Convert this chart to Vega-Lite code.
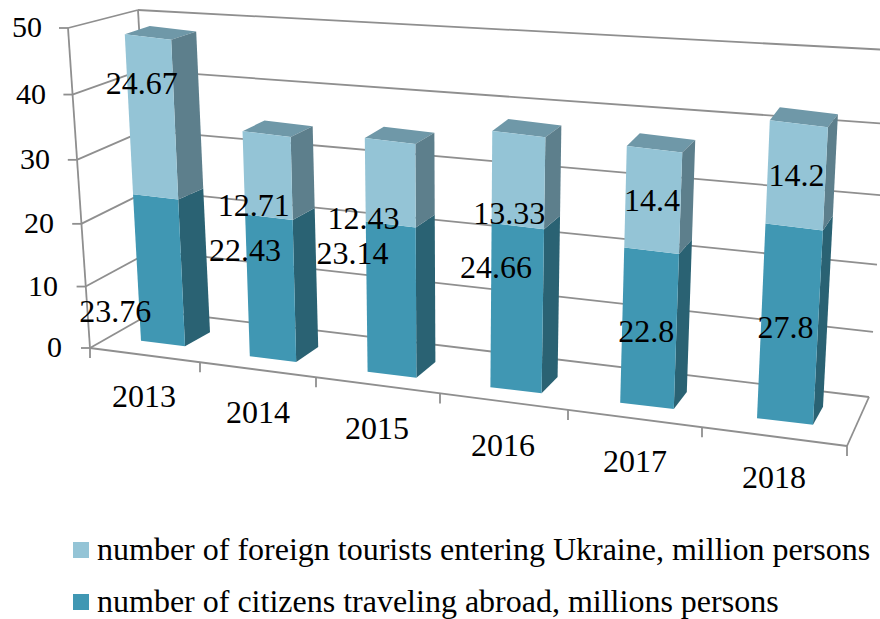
{
"$schema":"https://vega.github.io/schema/vega-lite/v6.json",
"width":880,"height":619,"padding":0,"autosize":{"type":"none"},
"background":"white",
"config":{"view":{"stroke":null},"text":{"font":"Liberation Serif"},"legend":{"labelFont":"Liberation Serif"}},
"datasets":{
"bars":[
{"year":2013,"series":"number of citizens traveling abroad, millions persons","value":23.76},
{"year":2013,"series":"number of foreign tourists entering Ukraine, million persons","value":24.67},
{"year":2014,"series":"number of citizens traveling abroad, millions persons","value":22.43},
{"year":2014,"series":"number of foreign tourists entering Ukraine, million persons","value":12.71},
{"year":2015,"series":"number of citizens traveling abroad, millions persons","value":23.14},
{"year":2015,"series":"number of foreign tourists entering Ukraine, million persons","value":12.43},
{"year":2016,"series":"number of citizens traveling abroad, millions persons","value":24.66},
{"year":2016,"series":"number of foreign tourists entering Ukraine, million persons","value":13.33},
{"year":2017,"series":"number of citizens traveling abroad, millions persons","value":22.8},
{"year":2017,"series":"number of foreign tourists entering Ukraine, million persons","value":14.4},
{"year":2018,"series":"number of citizens traveling abroad, millions persons","value":27.8},
{"year":2018,"series":"number of foreign tourists entering Ukraine, million persons","value":14.2}
],
"ticks":[{"tick":0},{"tick":10},{"tick":20},{"tick":30},{"tick":40},{"tick":50}],
"boundaries":[{"b":0},{"b":1},{"b":2},{"b":3},{"b":4},{"b":5},{"b":6}],
"years":[{"year":2013},{"year":2014},{"year":2015},{"year":2016},{"year":2017},{"year":2018}],
"frame":[{"part":"frame"}]
},
"layer":[
{"data":{"name":"ticks"},
 "mark":{"type":"rule","color":"#8f8f8f","strokeWidth":1.8,"xOffset":{"expr":"99-0.34*datum.tick"},"x2Offset":{"expr":"-51+0.4*datum.tick"},"yOffset":{"expr":"-37+0.38*datum.tick"},"y2Offset":{"expr":"49-0.0108*datum.tick*datum.tick"}},
 "encoding":{
  "x":{"datum":2012,"type":"quantitative","axis":null,"scale":{"domain":[2012,2013,2014,2015,2016,2017,2018,2019],"range":[56,163,273,392,516,647,785,920]}},
  "x2":{"datum":2019},
  "y":{"field":"tick","type":"quantitative","axis":null,"scale":{"domain":[0,50],"range":[348,28]}},
  "y2":{"field":"tick"}}},
{"data":{"name":"ticks"},
 "mark":{"type":"rule","color":"#8f8f8f","strokeWidth":1.8,"xOffset":{"expr":"34-0.44*datum.tick"},"x2Offset":{"expr":"25-0.44*datum.tick"},"yOffset":{"expr":"0.0064*datum.tick*(50-datum.tick)"},"y2Offset":{"expr":"0.0064*datum.tick*(50-datum.tick)"}},
 "encoding":{"x":{"datum":2012,"type":"quantitative"},"x2":{"datum":2012},"y":{"field":"tick","type":"quantitative"},"y2":{"field":"tick"}}},
{"data":{"name":"ticks"},
 "mark":{"type":"text","fontSize":30,"font":"Liberation Serif","color":"#000000","align":"right","baseline":"middle","xOffset":{"expr":"6-0.4*datum.tick"},"yOffset":{"expr":"0.0064*datum.tick*(50-datum.tick)"}},
 "encoding":{"x":{"datum":2012,"type":"quantitative"},"y":{"field":"tick","type":"quantitative"},"text":{"field":"tick","type":"nominal"}}},
{"data":{"name":"ticks"},
 "mark":{"type":"rule","color":"#8f8f8f","strokeWidth":1.8,"xOffset":{"expr":"34-0.44*datum.tick"},"x2Offset":{"expr":"99-0.34*datum.tick"},"yOffset":{"expr":"0.0064*datum.tick*(50-datum.tick)"},"y2Offset":{"expr":"-37+0.38*datum.tick"}},
 "encoding":{"x":{"datum":2012,"type":"quantitative"},"x2":{"datum":2012},"y":{"field":"tick","type":"quantitative"},"y2":{"field":"tick"}}},
{"data":{"name":"frame"},
 "mark":{"type":"rule","color":"#8f8f8f","strokeWidth":1.8,"xOffset":34,"x2Offset":12},
 "encoding":{"x":{"datum":2012,"type":"quantitative"},"x2":{"datum":2012},"y":{"datum":0,"type":"quantitative"},"y2":{"datum":50}}},
{"data":{"name":"frame"},
 "mark":{"type":"rule","color":"#8f8f8f","strokeWidth":1.8,"xOffset":99,"x2Offset":82,"yOffset":-37,"y2Offset":-18},
 "encoding":{"x":{"datum":2012,"type":"quantitative"},"x2":{"datum":2012},"y":{"datum":0,"type":"quantitative"},"y2":{"datum":50}}},
{"data":{"name":"frame"},
 "mark":{"type":"rule","color":"#8f8f8f","strokeWidth":1.8,"xOffset":34,"x2Offset":-73,"y2Offset":98},
 "encoding":{"x":{"datum":2012,"type":"quantitative"},"x2":{"datum":2019},"y":{"datum":0,"type":"quantitative"},"y2":{"datum":0}}},
{"data":{"name":"frame"},
 "mark":{"type":"rule","color":"#8f8f8f","strokeWidth":1.8,"xOffset":-73,"x2Offset":-51,"yOffset":98,"y2Offset":49},
 "encoding":{"x":{"datum":2019,"type":"quantitative"},"x2":{"datum":2019},"y":{"datum":0,"type":"quantitative"},"y2":{"datum":0}}},
{"data":{"name":"boundaries"},
 "mark":{"type":"rule","color":"#8f8f8f","strokeWidth":1.8,"xOffset":{"expr":"[34,144,260,384,512,646,791][datum.b]"},"x2Offset":{"expr":"[34,144,260,384,512,646,791][datum.b]"},"yOffset":{"expr":"[0,14.2,29.3,45.4,61.9,79.3,98][datum.b]"},"y2Offset":{"expr":"10+[0,14.2,29.3,45.4,61.9,79.3,98][datum.b]"}},
 "encoding":{"x":{"datum":2012,"type":"quantitative"},"x2":{"datum":2012},"y":{"datum":0,"type":"quantitative"},"y2":{"datum":0}}},
{"data":{"name":"years"},
 "mark":{"type":"text","fontSize":32,"font":"Liberation Serif","color":"#000000","align":"center","baseline":"middle","xOffset":{"expr":"[-19,-15,-15,-13,-12,-11][datum.year-2013]"},"yOffset":{"expr":"49+16.2*(datum.year-2013)"}},
 "encoding":{"x":{"field":"year","type":"quantitative"},"y":{"datum":0,"type":"quantitative"},"text":{"field":"year","type":"nominal"}}},
{"data":{"name":"bars"},
 "transform":[
  {"stack":"value","groupby":["year"],"sort":[{"field":"series","order":"ascending"}],"as":["v0","v1"]},
  {"filter":"datum.series=='number of foreign tourists entering Ukraine, million persons'"},
  {"calculate":"[0,1,2,3]","as":"corner"},{"flatten":["corner"]},
  {"calculate":"datum.year-2013","as":"t"},
  {"calculate":"datum.v1","as":"v"},
  {"calculate":"(datum.corner==0||datum.corner==3)?0:1","as":"u"},
  {"calculate":"datum.corner>=2?1:0","as":"d"},
  {"calculate":"(-0.31+0.128*datum.t)*datum.v+(datum.u-0.5)*(44+2.4*datum.t+0.05*datum.v)+datum.d*(25-3*datum.t)","as":"dx"},
  {"calculate":"-4.5+15.6*datum.t+(0.06-0.16*datum.t)*datum.v+0.0064*datum.v*(50-datum.v)+(datum.u-0.5)*0.12*(44+2.4*datum.t+0.05*datum.v)+datum.d*(-14-0.8*datum.t+0.12*datum.v)","as":"dy"}
 ],
 "mark":{"type":"line","filled":true,"fill":"#6f98a8","stroke":null,"xOffset":{"expr":"datum.dx"},"yOffset":{"expr":"datum.dy"}},
 "encoding":{"x":{"field":"year","type":"quantitative"},"y":{"field":"v","type":"quantitative"},"detail":{"field":"year"},"order":{"field":"corner"}}},
{"data":{"name":"bars"},
 "transform":[
  {"stack":"value","groupby":["year"],"sort":[{"field":"series","order":"ascending"}],"as":["v0","v1"]},
  {"calculate":"[0,1,2,3]","as":"corner"},{"flatten":["corner"]},
  {"calculate":"datum.year-2013","as":"t"},
  {"calculate":"datum.corner<2?datum.v0:datum.v1","as":"v"},
  {"calculate":"1","as":"u"},
  {"calculate":"(datum.corner==1||datum.corner==2)?1:0","as":"d"},
  {"calculate":"(-0.31+0.128*datum.t)*datum.v+(datum.u-0.5)*(44+2.4*datum.t+0.05*datum.v)+datum.d*(25-3*datum.t)","as":"dx"},
  {"calculate":"-4.5+15.6*datum.t+(0.06-0.16*datum.t)*datum.v+0.0064*datum.v*(50-datum.v)+(datum.u-0.5)*0.12*(44+2.4*datum.t+0.05*datum.v)+datum.d*(-14-0.8*datum.t+0.12*datum.v)","as":"dy"}
 ],
 "mark":{"type":"line","filled":true,"fill":{"expr":"datum.series=='number of foreign tourists entering Ukraine, million persons'?'#5d7f8c':'#2a6273'"},"stroke":null,"xOffset":{"expr":"datum.dx"},"yOffset":{"expr":"datum.dy"}},
 "encoding":{"x":{"field":"year","type":"quantitative"},"y":{"field":"v","type":"quantitative"},"detail":[{"field":"year"},{"field":"series"}],"order":{"field":"corner"}}},
{"data":{"name":"bars"},
 "transform":[
  {"stack":"value","groupby":["year"],"sort":[{"field":"series","order":"ascending"}],"as":["v0","v1"]},
  {"calculate":"[0,1,2,3]","as":"corner"},{"flatten":["corner"]},
  {"calculate":"datum.year-2013","as":"t"},
  {"calculate":"datum.corner<2?datum.v0:datum.v1","as":"v"},
  {"calculate":"(datum.corner==0||datum.corner==3)?0:1","as":"u"},
  {"calculate":"(-0.31+0.128*datum.t)*datum.v+(datum.u-0.5)*(44+2.4*datum.t+0.05*datum.v)","as":"dx"},
  {"calculate":"-4.5+15.6*datum.t+(0.06-0.16*datum.t)*datum.v+0.0064*datum.v*(50-datum.v)+(datum.u-0.5)*0.12*(44+2.4*datum.t+0.05*datum.v)","as":"dy"}
 ],
 "mark":{"type":"line","filled":true,"stroke":null,"xOffset":{"expr":"datum.dx"},"yOffset":{"expr":"datum.dy"}},
 "encoding":{"x":{"field":"year","type":"quantitative"},"y":{"field":"v","type":"quantitative"},"detail":{"field":"year"},"order":{"field":"corner"},
  "color":{"field":"series","type":"nominal","scale":{"domain":["number of foreign tourists entering Ukraine, million persons","number of citizens traveling abroad, millions persons"],"range":["#94c4d6","#4097b3"]},
   "legend":{"orient":"none","legendX":65,"legendY":534,"title":null,"symbolType":"square","symbolSize":256,"symbolStrokeWidth":0,"labelFontSize":32,"labelFont":"Liberation Serif","labelColor":"#000000","labelLimit":900,"labelOffset":0,"rowPadding":20,"columns":1}}}},
{"data":{"name":"bars"},
 "transform":[
  {"stack":"value","groupby":["year"],"sort":[{"field":"series","order":"ascending"}],"as":["v0","v1"]},
  {"calculate":"datum.year-2013","as":"t"},
  {"calculate":"(datum.v0+datum.v1)/2","as":"mid"},
  {"calculate":"datum.series=='number of foreign tourists entering Ukraine, million persons'?[-10,-14,-27,-9,-1,0][datum.t]:[-44,-26,-39,-21,-3,-4][datum.t]","as":"ax"},
  {"calculate":"datum.series=='number of foreign tourists entering Ukraine, million persons'?[-31,34,40,37,4,4][datum.t]:[44,-35,-44,-38,6,6][datum.t]","as":"ay"}
 ],
 "mark":{"type":"text","fontSize":32,"font":"Liberation Serif","color":"#000000","align":"center","baseline":"middle","xOffset":{"expr":"(-0.31+0.128*datum.t)*datum.mid+datum.ax"},"yOffset":{"expr":"-4.5+15.6*datum.t+(0.06-0.16*datum.t)*datum.mid+datum.ay"}},
 "encoding":{"x":{"field":"year","type":"quantitative"},"y":{"field":"mid","type":"quantitative"},"text":{"field":"value","type":"nominal"}}}
]
}
